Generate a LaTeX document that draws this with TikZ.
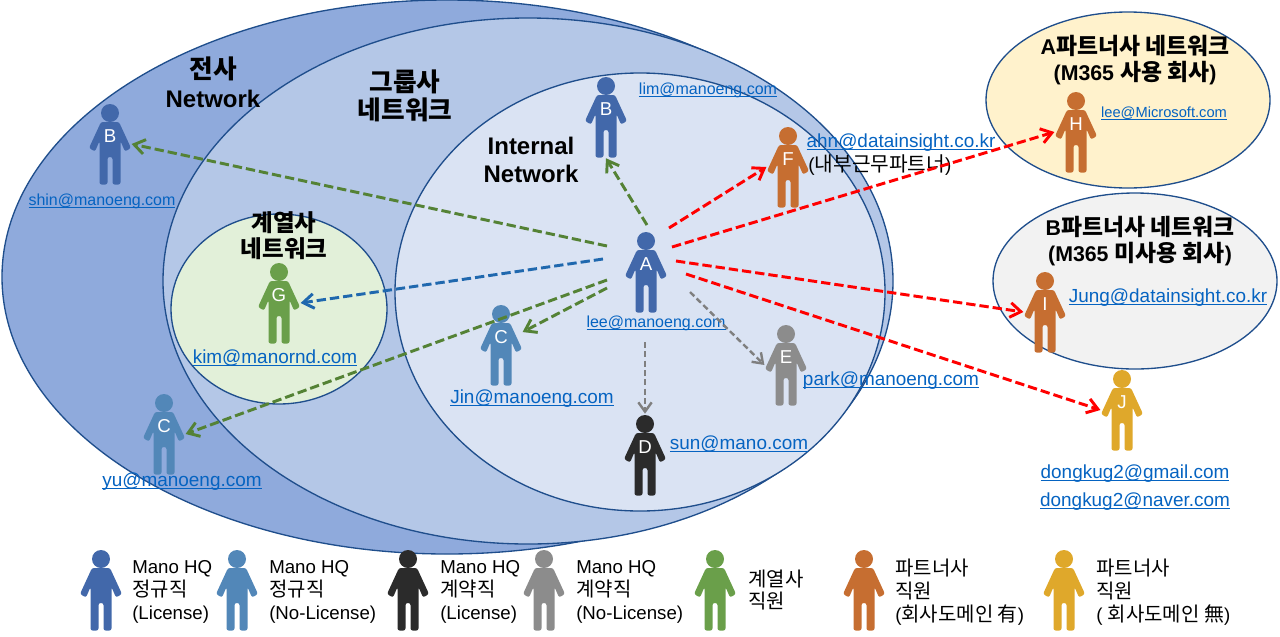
\documentclass[tikz,border=0pt]{standalone}
\usepackage{fontspec}
\usepackage{xcolor}
\usetikzlibrary{arrows.meta}
\setmainfont{Liberation Sans}
\newfontfamily\kofont[Scale=1.07]{Noto Sans CJK KR}
\newcommand{\ko}[1]{{\kofont #1}}
\newcommand{\mail}[1]{\textcolor{linkblue}{\setbox0\hbox{#1}\rlap{\rule[-1.8pt]{\wd0}{0.7pt}}\box0}}
\definecolor{linkblue}{HTML}{0563C1}
\definecolor{ringline}{HTML}{1F4E8C}
\definecolor{outerblue}{HTML}{8FAADC}
\definecolor{groupblue}{HTML}{B4C7E7}
\definecolor{innerblue}{HTML}{DAE3F3}
\definecolor{subgreen}{HTML}{E2F0D9}
\definecolor{partnerA}{HTML}{FFF2CC}
\definecolor{partnerB}{HTML}{F2F2F2}
\definecolor{regular}{HTML}{4268AA}
\definecolor{nolicense}{HTML}{5287B8}
\definecolor{contract}{HTML}{2B2B2B}
\definecolor{contractno}{HTML}{8C8C8C}
\definecolor{subsid}{HTML}{6A9F4A}
\definecolor{partnerdom}{HTML}{C66E31}
\definecolor{partnerfree}{HTML}{DFA82B}
\definecolor{arrowgreen}{HTML}{548235}
\definecolor{arrowblue}{HTML}{1F68AE}
\definecolor{arrowgrey}{HTML}{7F7F7F}
\tikzset{
	ring/.style={draw=ringline, line width=1pt},
	person/.style={rectangle, minimum width=32pt, minimum height=61.5pt, inner sep=0pt,
		path picture={
			\fill[#1] (0,-31) circle (9);
			\fill[#1, rounded corners=1.6pt] (9,-22) -- (21,4) -- (15,7.5) -- (10.5,-3) -- (10.5,40.5) -- (2.5,40.5) -- (2.5,13) -- (-2.5,13) -- (-2.5,40.5) -- (-10.5,40.5) -- (-10.5,-3) -- (-15,7.5) -- (-21,4) -- (-9,-22) -- cycle;
		}},
	tag/.style={text=white, yshift=6pt, inner sep=0pt, font=\fontsize{14}{14}\selectfont},
	title/.style={align=center, font=\bfseries\fontsize{18}{21.5}\selectfont},
	subtitle/.style={align=center, font=\bfseries\fontsize{16}{19.5}\selectfont},
	biglink/.style={inner sep=0pt, font=\fontsize{14.2}{17}\selectfont},
	smalllink/.style={inner sep=0pt, font=\fontsize{12}{15}\selectfont},
	legendtext/.style={align=left, anchor=west, inner sep=0pt, font=\fontsize{14}{17}\selectfont},
	link/.style={dash pattern=on 7pt off 3pt, line width=2.2pt, -{Straight Barb[length=8pt,width=11pt]}},
	thinlink/.style={dash pattern=on 4.5pt off 2.5pt, line width=1.8pt, -{Straight Barb[length=7pt,width=10pt]}}
}
\begin{document}
\begin{tikzpicture}[x=0.75pt,y=-0.75pt]
	\useasboundingbox (0,0) rectangle (1280,636);

	% Networks.
	\draw[ring, fill=outerblue] (447,277) ellipse (445 and 277);
	\draw[ring, fill=groupblue] (528,281) ellipse (365 and 263);
	\draw[ring, fill=innerblue] (640,292) ellipse (245 and 219);
	\draw[ring, fill=subgreen] (279,309) ellipse (108 and 95);
	\draw[ring, fill=partnerA] (1128,100) ellipse (142 and 88);
	\draw[ring, fill=partnerB] (1135,281) ellipse (142 and 88);

	\node[title] (enterprise) at (213,82) {\ko{전사}\\Network};
	\node[title] (group) at (405,96) {\ko{그룹사}\\\ko{네트워크}};
	\node[title] (internal) at (531,160) {Internal\\Network};
	\node[title, font=\bfseries\fontsize{16.5}{19.5}\selectfont] (subnet) at (284,236) {\ko{계열사}\\\ko{네트워크}};
	\node[subtitle] (partnerAname) at (1135,60) {A\ko{파트너사 네트워크}\\(M365 \ko{사용 회사})};
	\node[subtitle] (partnerBname) at (1140,241) {B\ko{파트너사 네트워크}\\(M365 \ko{미사용 회사})};

	% People.
	\node[person=regular, label={[tag]center:A}] (A) at (646,272) {};
	\node[person=regular, label={[tag]center:B}] (Bin) at (606,117) {};
	\node[person=regular, label={[tag]center:B}] (Bout) at (110,144) {};
	\node[person=nolicense, label={[tag]center:C}] (Cin) at (501,345) {};
	\node[person=nolicense, label={[tag]center:C}] (Cout) at (164,434) {};
	\node[person=contract, label={[tag]center:D}] (D) at (645,455) {};
	\node[person=contractno, label={[tag]center:E}] (E) at (786,365) {};
	\node[person=partnerdom, label={[tag]center:F}] (F) at (788,167) {};
	\node[person=subsid, label={[tag]center:G}] (G) at (279,303) {};
	\node[person=partnerdom, label={[tag]center:H}] (H) at (1076,132) {};
	\node[person=partnerdom, label={[tag]center:I}] (I) at (1045,312) {};
	\node[person=partnerfree, label={[tag]center:J}] (J) at (1122,410) {};

	% Mail addresses.
	\node[smalllink] (mailA) at (656,323) {\mail{lee@manoeng.com}};
	\node[smalllink] (mailBin) at (708,90) {\mail{lim@manoeng.com}};
	\node[smalllink] (mailBout) at (102,201) {\mail{shin@manoeng.com}};
	\node[biglink] (mailCin) at (532,399) {\mail{Jin@manoeng.com}};
	\node[biglink] (mailCout) at (182,482) {\mail{yu@manoeng.com}};
	\node[biglink] (mailD) at (739,444) {\mail{sun@mano.com}};
	\node[biglink] (mailE) at (891,381) {\mail{park@manoeng.com}};
	\node[biglink] (mailF) at (901,143) {\mail{ahn@datainsight.co.kr}};
	\node[biglink] (noteF) at (880,165) {(\ko{내부근무파트너})};
	\node[biglink] (mailG) at (275,358) {\mail{kim@manornd.com}};
	\node[smalllink, font=\fontsize{11}{14}\selectfont] (mailH) at (1164,113) {\mail{lee@Microsoft.com}};
	\node[biglink] (mailI) at (1168,298) {\mail{Jung@datainsight.co.kr}};
	\node[biglink] (mailJa) at (1135,474) {\mail{dongkug2@gmail.com}};
	\node[biglink] (mailJb) at (1135,502) {\mail{dongkug2@naver.com}};

	% Free ends of the arrows, next to A.
	\coordinate (fromBout) at (607,246);
	\coordinate (fromG) at (603,259);
	\coordinate (fromCin) at (607,288);
	\coordinate (fromCout) at (607,280);
	\coordinate (fromBin) at (647,225);
	\coordinate (fromF) at (669,228);
	\coordinate (fromH) at (672,247);
	\coordinate (fromI) at (676,261);
	\coordinate (fromJ) at (686,274);
	\coordinate (fromE) at (690,292);
	\coordinate (fromD) at (645,342);

	\draw[link, arrowgreen] (fromBout) -- (Bout.east);
	\draw[link, arrowblue] (fromG) -- (G.east);
	\draw[link, arrowgreen] (fromCin) -- (Cin.31);
	\draw[link, arrowgreen] (fromCout) -- (Cout.east);
	\draw[link, arrowgreen] (fromBin) -- (Bin.south);
	\draw[link, red] (fromF) -- (F.west);
	\draw[link, red] (fromH) -- (H.west);
	\draw[link, red] (fromI) -- (I.west);
	\draw[link, red] (fromJ) -- (J.west);
	\draw[thinlink, arrowgrey] (fromE) -- (E.west);
	\draw[thinlink, arrowgrey] (fromD) -- (D.north);

	% Legend.
	\node[person=regular] (keyA) at (101,590) {};
	\node[legendtext] (keyAtext) at (132,592) {Mano HQ\\\ko{정규직}\\(License)};
	\node[person=nolicense] (keyB) at (237,590) {};
	\node[legendtext] (keyBtext) at (269,592) {Mano HQ\\\ko{정규직}\\(No-License)};
	\node[person=contract] (keyC) at (408,590) {};
	\node[legendtext] (keyCtext) at (440,592) {Mano HQ\\\ko{계약직}\\(License)};
	\node[person=contractno] (keyD) at (544,590) {};
	\node[legendtext] (keyDtext) at (576,592) {Mano HQ\\\ko{계약직}\\(No-License)};
	\node[person=subsid] (keyE) at (715,590) {};
	\node[legendtext] (keyEtext) at (748,590) {\ko{계열사}\\\ko{직원}};
	\node[person=partnerdom] (keyF) at (864,590) {};
	\node[legendtext] (keyFtext) at (895,592) {\ko{파트너사}\\\ko{직원}\\(\ko{회사도메인 有})};
	\node[person=partnerfree] (keyG) at (1064,590) {};
	\node[legendtext] (keyGtext) at (1096,592) {\ko{파트너사}\\\ko{직원}\\( \ko{회사도메인 無})};
\end{tikzpicture}
\end{document}
